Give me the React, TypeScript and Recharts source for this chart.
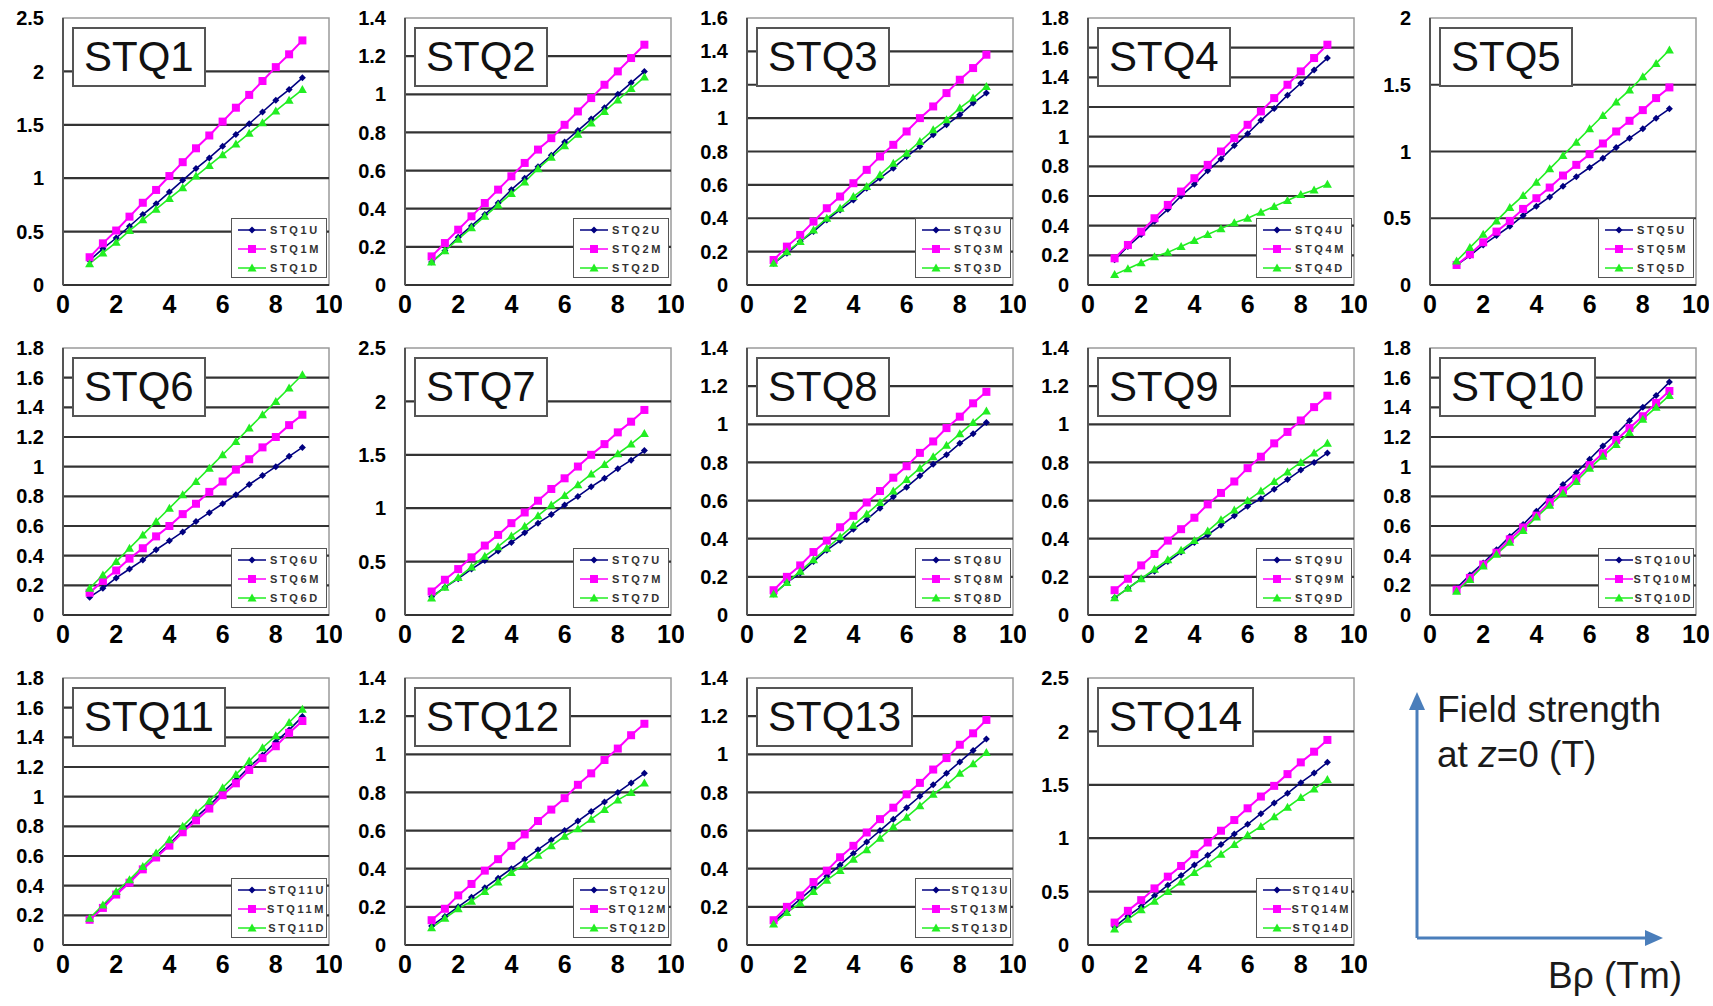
import React from "react";
import {
  Legend,
  Line,
  LineChart,
  ReferenceArea,
  ReferenceLine,
  XAxis,
  YAxis,
} from "recharts";

// Bρ (Tm) sample points, shared by every magnet
const bRho = [1, 1.5, 2, 2.5, 3, 3.5, 4, 4.5, 5, 5.5, 6, 6.5, 7, 7.5, 8, 8.5, 9];
const xTicks = [0, 2, 4, 6, 8, 10];

// y tick sets
const ticks14 = [0, 0.2, 0.4, 0.6, 0.8, 1, 1.2, 1.4];
const ticks16 = [0, 0.2, 0.4, 0.6, 0.8, 1, 1.2, 1.4, 1.6];
const ticks18 = [0, 0.2, 0.4, 0.6, 0.8, 1, 1.2, 1.4, 1.6, 1.8];
const ticks20 = [0, 0.5, 1, 1.5, 2];
const ticks25 = [0, 0.5, 1, 1.5, 2, 2.5];

// field strength at z=0 (T) for the U / M / D sections
const stq1U = [0.23, 0.34, 0.44, 0.55, 0.66, 0.76, 0.87, 0.98, 1.09, 1.19, 1.3, 1.41, 1.51, 1.62, 1.73, 1.83, 1.94];
const stq1M = [0.26, 0.39, 0.51, 0.64, 0.77, 0.89, 1.02, 1.15, 1.28, 1.4, 1.53, 1.66, 1.78, 1.91, 2.04, 2.16, 2.29];
const stq1D = [0.2, 0.3, 0.4, 0.51, 0.61, 0.71, 0.81, 0.91, 1.02, 1.12, 1.22, 1.32, 1.42, 1.52, 1.63, 1.73, 1.83];

const stq2U = [0.12, 0.18, 0.25, 0.31, 0.37, 0.43, 0.5, 0.56, 0.62, 0.68, 0.75, 0.81, 0.87, 0.93, 1.0, 1.06, 1.12];
const stq2M = [0.15, 0.22, 0.29, 0.36, 0.43, 0.5, 0.57, 0.64, 0.71, 0.77, 0.84, 0.91, 0.98, 1.05, 1.12, 1.19, 1.26];
const stq2D = [0.12, 0.18, 0.24, 0.3, 0.36, 0.42, 0.48, 0.54, 0.61, 0.67, 0.73, 0.79, 0.85, 0.91, 0.97, 1.03, 1.09];

const stq3U = [0.13, 0.19, 0.26, 0.32, 0.39, 0.45, 0.51, 0.58, 0.64, 0.7, 0.77, 0.83, 0.9, 0.96, 1.02, 1.09, 1.15];
const stq3M = [0.15, 0.23, 0.3, 0.38, 0.46, 0.53, 0.61, 0.69, 0.77, 0.84, 0.92, 1.0, 1.07, 1.15, 1.23, 1.3, 1.38];
const stq3D = [0.13, 0.2, 0.26, 0.33, 0.4, 0.46, 0.53, 0.59, 0.66, 0.73, 0.79, 0.86, 0.93, 0.99, 1.06, 1.12, 1.19];

const stq4U = [0.17, 0.26, 0.34, 0.43, 0.51, 0.6, 0.68, 0.77, 0.85, 0.94, 1.02, 1.11, 1.19, 1.28, 1.36, 1.45, 1.53];
const stq4M = [0.18, 0.27, 0.36, 0.45, 0.54, 0.63, 0.72, 0.81, 0.9, 0.99, 1.08, 1.17, 1.26, 1.35, 1.44, 1.53, 1.62];
const stq4D = [0.07, 0.11, 0.15, 0.19, 0.22, 0.26, 0.3, 0.34, 0.38, 0.42, 0.45, 0.49, 0.53, 0.57, 0.61, 0.64, 0.68];

const stq5U = [0.15, 0.22, 0.3, 0.37, 0.44, 0.52, 0.59, 0.66, 0.74, 0.81, 0.88, 0.95, 1.03, 1.1, 1.17, 1.25, 1.32];
const stq5M = [0.15, 0.23, 0.32, 0.4, 0.48, 0.57, 0.65, 0.73, 0.82, 0.9, 0.98, 1.06, 1.15, 1.23, 1.31, 1.4, 1.48];
const stq5D = [0.18, 0.28, 0.38, 0.48, 0.58, 0.67, 0.77, 0.87, 0.97, 1.07, 1.17, 1.27, 1.37, 1.46, 1.56, 1.66, 1.76];

const stq6U = [0.12, 0.18, 0.25, 0.31, 0.37, 0.44, 0.5, 0.56, 0.63, 0.69, 0.75, 0.81, 0.88, 0.94, 1.0, 1.07, 1.13];
const stq6M = [0.15, 0.23, 0.3, 0.38, 0.45, 0.53, 0.6, 0.68, 0.75, 0.83, 0.9, 0.98, 1.05, 1.13, 1.2, 1.28, 1.35];
const stq6D = [0.18, 0.27, 0.36, 0.45, 0.54, 0.63, 0.72, 0.81, 0.9, 0.99, 1.08, 1.17, 1.26, 1.35, 1.44, 1.53, 1.62];

const stq7U = [0.17, 0.26, 0.34, 0.43, 0.51, 0.6, 0.68, 0.77, 0.86, 0.94, 1.03, 1.11, 1.2, 1.28, 1.37, 1.45, 1.54];
const stq7M = [0.22, 0.33, 0.43, 0.54, 0.65, 0.75, 0.86, 0.96, 1.07, 1.18, 1.28, 1.39, 1.5, 1.6, 1.71, 1.81, 1.92];
const stq7D = [0.16, 0.26, 0.35, 0.45, 0.55, 0.64, 0.74, 0.83, 0.93, 1.03, 1.12, 1.22, 1.32, 1.41, 1.51, 1.6, 1.7];

const stq8U = [0.11, 0.17, 0.22, 0.28, 0.34, 0.39, 0.45, 0.5, 0.56, 0.62, 0.67, 0.73, 0.79, 0.84, 0.9, 0.95, 1.01];
const stq8M = [0.13, 0.2, 0.26, 0.33, 0.39, 0.46, 0.52, 0.59, 0.65, 0.72, 0.78, 0.85, 0.91, 0.98, 1.04, 1.11, 1.17];
const stq8D = [0.11, 0.17, 0.23, 0.29, 0.35, 0.41, 0.47, 0.53, 0.59, 0.65, 0.71, 0.77, 0.83, 0.89, 0.95, 1.01, 1.07];

const stq9U = [0.09, 0.14, 0.19, 0.23, 0.28, 0.33, 0.38, 0.42, 0.47, 0.52, 0.57, 0.61, 0.66, 0.71, 0.76, 0.8, 0.85];
const stq9M = [0.13, 0.19, 0.26, 0.32, 0.39, 0.45, 0.51, 0.58, 0.64, 0.7, 0.77, 0.83, 0.9, 0.96, 1.02, 1.09, 1.15];
const stq9D = [0.09, 0.14, 0.19, 0.24, 0.29, 0.34, 0.39, 0.44, 0.5, 0.55, 0.6, 0.65, 0.7, 0.75, 0.8, 0.85, 0.9];

const stq10U = [0.18, 0.27, 0.35, 0.44, 0.53, 0.61, 0.7, 0.79, 0.88, 0.96, 1.05, 1.14, 1.22, 1.31, 1.4, 1.48, 1.57];
const stq10M = [0.17, 0.25, 0.34, 0.42, 0.51, 0.59, 0.67, 0.76, 0.84, 0.92, 1.01, 1.09, 1.18, 1.26, 1.34, 1.43, 1.51];
const stq10D = [0.16, 0.24, 0.33, 0.41, 0.49, 0.57, 0.66, 0.74, 0.82, 0.9, 0.99, 1.07, 1.15, 1.23, 1.32, 1.4, 1.48];

const stq11U = [0.17, 0.26, 0.34, 0.43, 0.51, 0.6, 0.68, 0.77, 0.86, 0.94, 1.03, 1.11, 1.2, 1.28, 1.37, 1.45, 1.54];
const stq11M = [0.17, 0.25, 0.34, 0.42, 0.51, 0.59, 0.67, 0.76, 0.84, 0.92, 1.01, 1.09, 1.18, 1.26, 1.34, 1.43, 1.51];
const stq11D = [0.18, 0.27, 0.36, 0.44, 0.53, 0.62, 0.71, 0.8, 0.89, 0.97, 1.06, 1.15, 1.24, 1.33, 1.41, 1.5, 1.59];

const stq12U = [0.1, 0.15, 0.2, 0.25, 0.3, 0.35, 0.4, 0.45, 0.5, 0.55, 0.6, 0.65, 0.7, 0.75, 0.8, 0.85, 0.9];
const stq12M = [0.13, 0.19, 0.26, 0.32, 0.39, 0.45, 0.52, 0.58, 0.65, 0.71, 0.77, 0.84, 0.9, 0.97, 1.03, 1.1, 1.16];
const stq12D = [0.09, 0.14, 0.19, 0.23, 0.28, 0.33, 0.38, 0.42, 0.47, 0.52, 0.57, 0.61, 0.66, 0.71, 0.76, 0.8, 0.85];

const stq13U = [0.12, 0.18, 0.24, 0.3, 0.36, 0.42, 0.48, 0.54, 0.6, 0.66, 0.72, 0.78, 0.84, 0.9, 0.96, 1.02, 1.08];
const stq13M = [0.13, 0.2, 0.26, 0.33, 0.39, 0.46, 0.52, 0.59, 0.66, 0.72, 0.79, 0.85, 0.92, 0.98, 1.05, 1.11, 1.18];
const stq13D = [0.11, 0.17, 0.22, 0.28, 0.34, 0.39, 0.45, 0.5, 0.56, 0.62, 0.67, 0.73, 0.79, 0.84, 0.9, 0.95, 1.01];

const stq14U = [0.17, 0.27, 0.36, 0.46, 0.56, 0.65, 0.75, 0.84, 0.94, 1.04, 1.13, 1.23, 1.33, 1.42, 1.52, 1.61, 1.71];
const stq14M = [0.21, 0.32, 0.42, 0.53, 0.64, 0.74, 0.85, 0.96, 1.07, 1.17, 1.28, 1.39, 1.49, 1.6, 1.71, 1.81, 1.92];
const stq14D = [0.15, 0.24, 0.33, 0.41, 0.5, 0.59, 0.68, 0.76, 0.85, 0.94, 1.03, 1.11, 1.2, 1.29, 1.38, 1.46, 1.55];

const panels = [
  { name: "STQ1", u: stq1U, m: stq1M, d: stq1D, yTicks: ticks25 },
  { name: "STQ2", u: stq2U, m: stq2M, d: stq2D, yTicks: ticks14 },
  { name: "STQ3", u: stq3U, m: stq3M, d: stq3D, yTicks: ticks16 },
  { name: "STQ4", u: stq4U, m: stq4M, d: stq4D, yTicks: ticks18 },
  { name: "STQ5", u: stq5U, m: stq5M, d: stq5D, yTicks: ticks20 },
  { name: "STQ6", u: stq6U, m: stq6M, d: stq6D, yTicks: ticks18 },
  { name: "STQ7", u: stq7U, m: stq7M, d: stq7D, yTicks: ticks25 },
  { name: "STQ8", u: stq8U, m: stq8M, d: stq8D, yTicks: ticks14 },
  { name: "STQ9", u: stq9U, m: stq9M, d: stq9D, yTicks: ticks14 },
  { name: "STQ10", u: stq10U, m: stq10M, d: stq10D, yTicks: ticks18 },
  { name: "STQ11", u: stq11U, m: stq11M, d: stq11D, yTicks: ticks18 },
  { name: "STQ12", u: stq12U, m: stq12M, d: stq12D, yTicks: ticks14 },
  { name: "STQ13", u: stq13U, m: stq13M, d: stq13D, yTicks: ticks14 },
  { name: "STQ14", u: stq14U, m: stq14M, d: stq14D, yTicks: ticks25 },
];

const SERIES = ["U", "M", "D"];
const COLORS: Record<string, string> = { U: "#000080", M: "#ff00ff", D: "#22ee22" };
const SANS = "'Liberation Sans', Arial, sans-serif";

const CELL_W = 342;
const CELL_H = 330;
const colX = [0, 342, 684, 1025, 1367];
const rowY = [0, 330, 660];

function marker(kind: string, cx: number, cy: number, key?: string) {
  if (cx == null || cy == null) return <g key={key} />;
  if (kind === "M") {
    return <rect key={key} x={cx - 4} y={cy - 4} width={8} height={8} fill={COLORS.M} />;
  }
  if (kind === "D") {
    return (
      <polygon
        key={key}
        points={`${cx},${cy - 4.5} ${cx + 4.5},${cy + 3.5} ${cx - 4.5},${cy + 3.5}`}
        fill={COLORS.D}
      />
    );
  }
  return (
    <polygon
      key={key}
      points={`${cx},${cy - 3.5} ${cx + 3.5},${cy} ${cx},${cy + 3.5} ${cx - 3.5},${cy}`}
      fill={COLORS.U}
    />
  );
}

function SeriesLegend({ payload }: any) {
  const items = [...(payload ?? [])].sort(
    (a: any, b: any) => SERIES.indexOf(a.dataKey) - SERIES.indexOf(b.dataKey)
  );
  return (
    <div
      style={{
        width: 96,
        height: 60,
        boxSizing: "border-box",
        border: "1.5px solid #555",
        background: "#fff",
        paddingTop: 1,
      }}
    >
      {items.map((entry: any) => (
        <div key={entry.value} style={{ display: "flex", alignItems: "center", height: 19 }}>
          <svg width={34} height={12} style={{ marginLeft: 4 }}>
            <line x1={2} y1={6} x2={30} y2={6} stroke={COLORS[entry.dataKey]} strokeWidth={1.5} />
            {marker(entry.dataKey, 16, 6)}
          </svg>
          <span
            style={{
              fontFamily: SANS,
              fontSize: 11,
              fontWeight: 700,
              letterSpacing: 2.6,
              color: "#333",
              lineHeight: "12px",
            }}
          >
            {entry.value}
          </span>
        </div>
      ))}
    </div>
  );
}

function MagnetPanel({ panel }: { panel: (typeof panels)[number] }) {
  const rows = bRho.map((x, i) => ({ x, U: panel.u[i], M: panel.m[i], D: panel.d[i] }));
  const yMax = panel.yTicks[panel.yTicks.length - 1];
  const inner = panel.yTicks.slice(1, -1);

  return (
    <div style={{ position: "relative", width: CELL_W, height: CELL_H }}>
      <LineChart
        width={CELL_W}
        height={CELL_H}
        data={rows}
        margin={{ top: 18, right: 13, left: 0, bottom: 0 }}
      >
        <ReferenceArea
          x1={0}
          x2={10}
          y1={0}
          y2={yMax}
          fill="none"
          stroke="#9a9a9a"
          strokeWidth={1.5}
        />
        {inner.map((t) => (
          <ReferenceLine key={t} y={t} stroke="#333" strokeWidth={2.2} />
        ))}
        <XAxis
          dataKey="x"
          type="number"
          domain={[0, 10]}
          ticks={xTicks}
          interval={0}
          height={45}
          tickSize={0}
          tickMargin={10}
          axisLine={{ stroke: "#333", strokeWidth: 2 }}
          tick={{
            fontSize: 25,
            fontWeight: 700,
            fill: "#000",
            fontFamily: "'Liberation Sans Narrow', 'Liberation Sans', sans-serif",
          }}
        />
        <YAxis
          type="number"
          domain={[0, yMax]}
          ticks={panel.yTicks}
          interval={0}
          width={63}
          tickSize={0}
          tickMargin={19}
          axisLine={{ stroke: "#555", strokeWidth: 2 }}
          tick={{ fontSize: 20, fontWeight: 700, fill: "#000", fontFamily: SANS }}
        />
        <Legend
          layout="vertical"
          align="center"
          verticalAlign="middle"
          content={<SeriesLegend />}
          wrapperStyle={{ left: 231, top: 218, width: 96, height: 60 }}
        />
        {SERIES.map((k) => (
          <Line
            key={k}
            dataKey={k}
            name={`${panel.name}${k}`}
            stroke={COLORS[k]}
            strokeWidth={k === "M" ? 2 : 1.6}
            dot={(p: any) => marker(k, p.cx, p.cy, `${k}-${p.index}`)}
            activeDot={false}
            isAnimationActive={false}
          />
        ))}
      </LineChart>
      <div
        style={{
          position: "absolute",
          left: 72,
          top: 27,
          height: 60,
          boxSizing: "border-box",
          padding: "0 10px",
          border: "2px solid #555",
          background: "#fff",
          fontFamily: SANS,
          fontSize: 42,
          lineHeight: "56px",
          color: "#111",
        }}
      >
        {panel.name}
      </div>
    </div>
  );
}

function AxisKey() {
  const blue = "#4a7ebb";
  return (
    <svg
      width={323}
      height={336}
      style={{ position: "absolute", left: 1390, top: 670 }}
    >
      <line x1={27} y1={268} x2={27} y2={38} stroke={blue} strokeWidth={3} />
      <polygon points="27,22 19,40 35,40" fill={blue} />
      <line x1={27} y1={268} x2={257} y2={268} stroke={blue} strokeWidth={3} />
      <polygon points="273,268 255,260 255,276" fill={blue} />
      <text x={47} y={52} fontFamily={SANS} fontSize={37} fill="#1a1a1a">
        Field strength
      </text>
      <text x={47} y={97} fontFamily={SANS} fontSize={37} fill="#1a1a1a">
        at <tspan fontStyle="italic">z</tspan>=0 (T)
      </text>
      <text x={158} y={318} fontFamily={SANS} fontSize={37} fill="#1a1a1a">
        Bρ (Tm)
      </text>
    </svg>
  );
}

export default function App() {
  return (
    <div
      style={{
        position: "absolute",
        left: 0,
        top: 0,
        width: 1713,
        height: 1006,
        background: "#fff",
        overflow: "hidden",
      }}
    >
      {panels.map((p, i) => (
        <div
          key={p.name}
          style={{ position: "absolute", left: colX[i % 5], top: rowY[Math.floor(i / 5)] }}
        >
          <MagnetPanel panel={p} />
        </div>
      ))}
      <AxisKey />
    </div>
  );
}
